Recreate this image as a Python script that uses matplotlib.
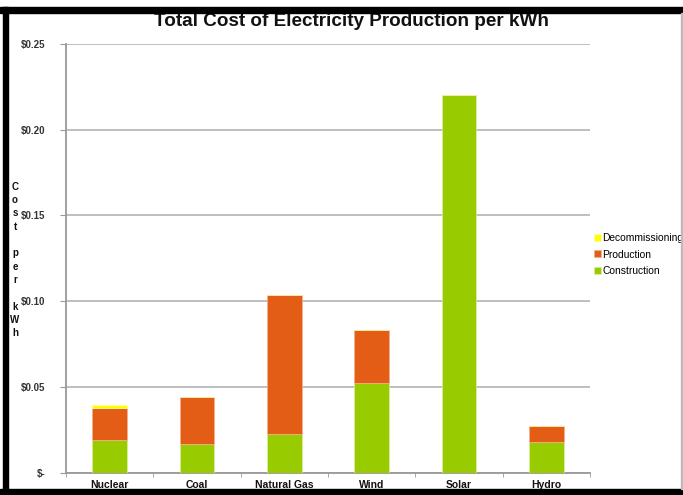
import matplotlib
matplotlib.use("Agg")
import matplotlib.pyplot as plt
from matplotlib.patches import Rectangle
import numpy as np

plt.rcParams['font.family'] = ['Liberation Sans', 'DejaVu Sans']

categories = ["Nuclear", "Coal", "Natural Gas", "Wind", "Solar", "Hydro"]
construction = [0.0189, 0.0168, 0.0224, 0.0526, 0.2205, 0.0181]
production = [0.0187, 0.0276, 0.0814, 0.0308, 0.0, 0.0094]
decommissioning = [0.0021, 0.0, 0.0, 0.0, 0.0, 0.0]
yticks = [0.0, 0.05, 0.10, 0.15, 0.20, 0.25]
ytick_labels = ["$-", "$0.05", "$0.10", "$0.15", "$0.20", "$0.25"]

c_con = "#99CC00"
c_pro = "#E35D17"
c_dec = "#FFFF00"

fig = plt.figure(figsize=(6.83, 4.95), dpi=100)
ax = fig.add_axes([66/683, (495-472.7)/495, (590-66)/683, (472.7-44)/495])

x = np.arange(len(categories))
w = 0.40
con = np.array(construction)
pro = np.array(production)
dec = np.array(decommissioning)
ax.bar(x, con, w, color=c_con, edgecolor="#d8f0a0", linewidth=0.5, label="Construction", zorder=3)
ax.bar(x, pro, w, bottom=con, color=c_pro, edgecolor="#f5b08a", linewidth=0.5, label="Production", zorder=3)
ax.bar(x, dec, w, bottom=con+pro, color=c_dec, edgecolor="#ffffa0", linewidth=0.5, label="Decommissioning", zorder=3)

ax.set_xlim(-0.5, len(categories) - 0.5)
ax.set_ylim(0, 0.25)
ax.set_yticks(yticks)
ax.set_yticklabels(ytick_labels, fontsize=7, fontweight='bold', color='#333333')
ax.set_xticks(x)
ax.set_xticklabels(categories, fontsize=7.5, fontweight='bold', color='#111111')
ax.set_xticks(np.arange(len(categories) + 1) - 0.5, minor=True)
ax.tick_params(axis='x', which='major', length=0, pad=5)
ax.tick_params(axis='x', which='minor', length=3, color='#999999', direction='out')
ax.tick_params(axis='y', length=4, color='#999999', pad=11)
ax.yaxis.grid(True, color='#b4b4b4', linewidth=1.2, zorder=0)
ax.set_axisbelow(True)
for s in ['top', 'right']:
    ax.spines[s].set_visible(False)
ax.spines['left'].set_color('#999999')
ax.spines['left'].set_linewidth(1.3)
ax.spines['bottom'].set_color('#999999')
ax.spines['bottom'].set_linewidth(1.3)

fig.text(351/683, 1 - 21.5/495, "Total Cost of Electricity Production per kWh",
         ha='center', va='center', fontsize=13.6, fontweight='bold', color='#111111')

ylabel = "\n".join(list("Cost")) + "\n\n" + "\n".join(list("per")) + "\n\n" + "\n".join(list("kWh"))
fig.text(15/683, 1 - 260/495, ylabel, ha='center', va='center', fontsize=7,
         fontweight='bold', color='#111111', linespacing=1.42)

handles, labels = ax.get_legend_handles_labels()
leg = fig.legend(handles[::-1], labels[::-1], loc='center left',
                 bbox_to_anchor=(590/683, 1 - 254.5/495), frameon=False,
                 fontsize=7.4, handlelength=0.65, handleheight=0.65,
                 handletextpad=0.15, labelspacing=0.65, borderaxespad=0)

# image border
fig.patches.append(Rectangle((0, 1 - 13/495), 1, 6/495, transform=fig.transFigure,
                             color='black', zorder=10))
fig.patches.append(Rectangle((3/683, 0), 5/683, 1 - 7/495, transform=fig.transFigure,
                             color='black', zorder=10))
fig.patches.append(Rectangle((0, 0), 1, 6/495, transform=fig.transFigure,
                             color='black', zorder=10))
fig.patches.append(Rectangle((681/683, 6/495), 1.5/683, 1 - 19/495, transform=fig.transFigure,
                             color='#bbbbbb', zorder=10))

fig.savefig("out.png", dpi=100)
